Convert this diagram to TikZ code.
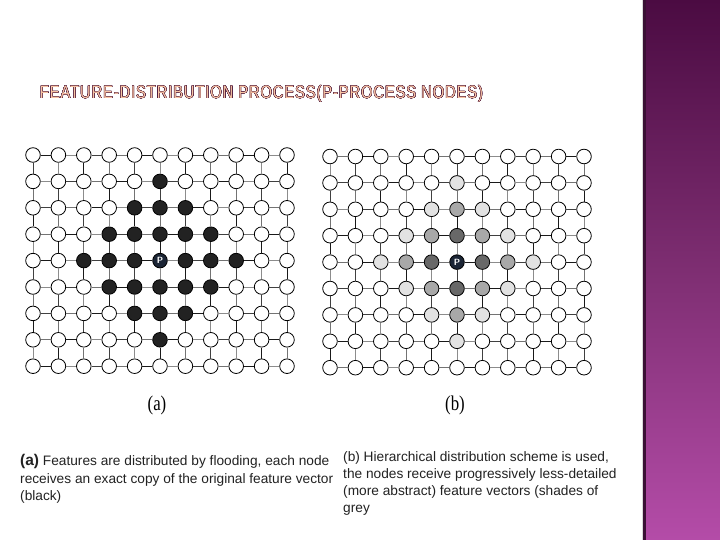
\documentclass[tikz,border=0pt]{standalone}
\usepackage{fontspec}
\usepackage{graphicx}
\usepackage{contour}
\setmainfont{Liberation Sans}
\newfontfamily\titlefont[LetterSpace=6]{Liberation Sans}
\newfontfamily\labfont{Liberation Serif}
\contourlength{0.35pt}
\definecolor{pnode}{HTML}{1B2535}
\definecolor{blk}{HTML}{222222}
\definecolor{shadeA}{HTML}{686868}
\definecolor{shadeB}{HTML}{A8A8A8}
\definecolor{shadeC}{HTML}{E2E2E2}
\definecolor{barTop}{HTML}{4B0B42}
\definecolor{barMid}{HTML}{7E2E72}
\definecolor{barBot}{HTML}{B44CA8}
\definecolor{barEdge}{HTML}{3A1034}
\definecolor{titlefill}{HTML}{F8C4A4}
\definecolor{titleline}{HTML}{4A1438}
\definecolor{captext}{HTML}{222222}
\tikzset{
  gnode/.style={circle, draw=black, line width=0.8pt, minimum size=14.6pt, inner sep=0pt},
  plabel/.style={text=white, font=\sffamily\bfseries\fontsize{9}{9}\selectfont, inner sep=0pt},
  e0/.style={line width=0.9pt, draw=black!90},
  e1/.style={line width=0.9pt, draw=black!55},
  e2/.style={line width=0.9pt, draw=black!75},
  e3/.style={line width=0.9pt, draw=black!45},
  captxt/.style={anchor=base west, inner sep=0pt, text=captext, font=\fontsize{13.7}{17}\selectfont},
  sublab/.style={inner sep=0pt, font=\labfont\fontsize{21}{21}\selectfont}
}
\begin{document}
\begin{tikzpicture}[x=1pt,y=-1pt]
\useasboundingbox (0,0) rectangle (720,540);
\fill[white] (0,0) rectangle (720,540);
% side bar
\shade[top color=barTop, bottom color=barBot, middle color=barMid] (643,0) rectangle (720,540);
\fill[barEdge] (643,0) rectangle (646,540);
\fill[black!15] (641.5,0) rectangle (643,540);
% title
\node[font=\titlefont\fontsize{16}{16}\selectfont, inner sep=0pt] (title) at (261.5,94)
  {\resizebox{443pt}{!}{\scalebox{0.82}[1]{\contour{titleline}{\textcolor{titlefill}{FEATURE-DISTRIBUTION PROCESS(P-PROCESS NODES)}}}}};
% grid nodes
\foreach \r in {0,...,8} {
  \foreach \c in {0,...,10} {
    \pgfmathtruncatemacro\d{abs(\r-4)+abs(\c-5)}
    \ifnum\d=0 \def\lf{pnode}\else\ifnum\d<4 \def\lf{blk}\else\def\lf{white}\fi\fi
    \ifcase\d \def\rf{pnode}\or\def\rf{shadeA}\or\def\rf{shadeB}\or\def\rf{shadeC}\else\def\rf{white}\fi
    \node[gnode, fill=\lf] (L-\r-\c) at ({33+25.4*\c},{155+26.4*\r}) {};
    \node[gnode, fill=\rf] (R-\r-\c) at ({330+25.4*\c},{156.5+26.4*\r}) {};
  }
}
\node[plabel] (LP) at (L-4-5) {P};
\node[plabel] (RP) at (R-4-5) {P};
% horizontal edges
\foreach \r in {0,...,8} {
  \foreach \c in {0,...,9} {
    \pgfmathtruncatemacro\cn{\c+1}
    \pgfmathtruncatemacro\k{mod(\r*7+\c*3,4)}
    \pgfmathtruncatemacro\kk{mod(\r*5+\c*3+1,4)}
    \draw[e\k] (L-\r-\c) -- (L-\r-\cn);
    \draw[e\kk] (R-\r-\c) -- (R-\r-\cn);
  }
}
% vertical edges
\foreach \r in {0,...,7} {
  \foreach \c in {0,...,10} {
    \pgfmathtruncatemacro\rn{\r+1}
    \pgfmathtruncatemacro\k{mod(\r*3+\c*5+2,4)}
    \pgfmathtruncatemacro\kk{mod(\r*3+\c*7+3,4)}
    \draw[e\k] (L-\r-\c) -- (L-\rn-\c);
    \draw[e\kk] (R-\r-\c) -- (R-\rn-\c);
  }
}
% sub-labels
\node[sublab] (la) at (157,405) {\scalebox{0.8}[1]{(a)}};
\node[sublab] (lb) at (455,405) {\scalebox{0.8}[1]{(b)}};
% captions
\node[captxt] (ca1) at (20,465) {{\fontsize{15.5}{17}\selectfont\bfseries (a)} Features are distributed by flooding, each node};
\node[captxt] (ca2) at (20,483) {receives an exact copy of the original feature vector};
\node[captxt] (ca3) at (20,500) {(black)};
\node[captxt] (cb1) at (343,461) {(b) Hierarchical distribution scheme is used,};
\node[captxt] (cb2) at (343,478) {the nodes receive progressively less-detailed};
\node[captxt] (cb3) at (343,495) {(more abstract) feature vectors (shades of};
\node[captxt] (cb4) at (343,512) {grey};
\end{tikzpicture}
\end{document}
